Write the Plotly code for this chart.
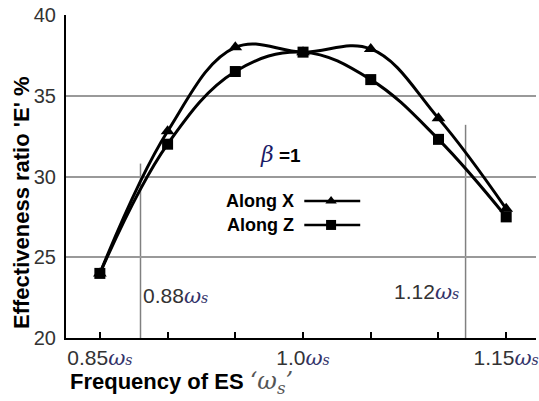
import plotly.graph_objects as go

# ---- data ----
freq = [0.85, 0.90, 0.95, 1.00, 1.05, 1.10, 1.15]
along_x = [24.0, 32.8, 38.0, 37.7, 37.9, 33.6, 28.0]
along_z = [24.0, 32.0, 36.5, 37.7, 36.0, 32.3, 27.5]
label_vals = [0.85, 1.00, 1.15]
label_text = ["0.85", "1.0", "1.15"]
minor_vals = [0.90, 0.95, 1.05, 1.10]
y_ticks = [20, 25, 30, 35, 40]
ref_lines = [(0.88, 30.8, "0.88"), (1.12, 33.2, "1.12")]

OM = "<span style='font-family:DejaVu Serif;color:#33336a'><i>ω</i><span style='font-size:14px'><i>s</i></span></span>"

fig = go.Figure()

fig.add_trace(go.Scatter(
    x=freq, y=along_x, mode="lines+markers",
    line=dict(color="black", width=3, shape="spline", smoothing=1.1),
    marker=dict(symbol="triangle-up", size=12, color="black"),
    showlegend=False, cliponaxis=False))
fig.add_trace(go.Scatter(
    x=freq, y=along_z, mode="lines+markers",
    line=dict(color="black", width=3, shape="spline", smoothing=1.1),
    marker=dict(symbol="square", size=11, color="black"),
    showlegend=False, cliponaxis=False))

# legend samples on an overlay axis (paper-like 0..1)
leg_y = [0.424, 0.350]
leg_sym = ["triangle-up", "square"]
leg_names = ["Along X", "Along Z"]
for yy, sym, name in zip(leg_y, leg_sym, leg_names):
    fig.add_trace(go.Scatter(
        x=[0.507, 0.626], y=[yy, yy], mode="lines", xaxis="x2", yaxis="y2",
        line=dict(color="black", width=2.5), showlegend=False))
    fig.add_trace(go.Scatter(
        x=[0.564], y=[yy], mode="markers", xaxis="x2", yaxis="y2",
        marker=dict(symbol=sym, size=10, color="black"), showlegend=False))
    fig.add_annotation(xref="paper", yref="paper", x=0.490, y=yy,
                       text="<b>%s</b>" % name, showarrow=False,
                       xanchor="right", yanchor="middle",
                       font=dict(family="Liberation Sans", size=18, color="black"))

# reference vertical lines and labels
for xv, ytop, lab in ref_lines:
    fig.add_shape(type="line", x0=xv, x1=xv, y0=20, y1=ytop,
                  line=dict(color="#808080", width=1.5), layer="below")
fig.add_annotation(x=0.88, y=22.6, text="0.88" + OM, showarrow=False,
                   xanchor="left", yanchor="middle", xshift=0,
                   font=dict(family="Liberation Sans", size=21, color="#333"))
fig.add_annotation(x=1.12, y=22.85, text="1.12" + OM, showarrow=False,
                   xanchor="right", yanchor="middle", xshift=-5,
                   font=dict(family="Liberation Sans", size=21, color="#333"))

# beta label
fig.add_annotation(xref="paper", yref="paper", x=0.457, y=0.567,
                   text="<span style='font-family:DejaVu Serif;color:#1a1a66;font-size:22px'><i>β</i></span> <b>=1</b>",
                   showarrow=False, xanchor="center", yanchor="middle",
                   font=dict(family="Liberation Sans", size=19, color="black"))

# axis titles
fig.add_annotation(xref="paper", yref="paper", x=0, y=0.418, xshift=-44,
                   text="<b>Effectiveness ratio 'E' %</b>", textangle=-90,
                   showarrow=False, xanchor="center", yanchor="middle",
                   font=dict(family="Liberation Sans", size=22, color="black"))
fig.add_annotation(xref="paper", yref="paper", x=0, y=-0.139, xshift=2,
                   text="<b>Frequency of ES</b> <span style='font-family:DejaVu Serif;color:#555;font-size:24px'><i>‘ω<sub>s</sub>’</i></span>",
                   showarrow=False, xanchor="left", yanchor="middle",
                   font=dict(family="Liberation Sans", size=22, color="black"))

fig.update_layout(
    width=539, height=401,
    margin=dict(l=66, r=0, t=15, b=63),
    paper_bgcolor="white", plot_bgcolor="white",
    showlegend=False,
    xaxis=dict(range=[0.825, 1.172], tickvals=label_vals,
               ticktext=[t + OM for t in label_text],
               ticks="inside", ticklen=6, tickwidth=2, tickcolor="black",
               minor=dict(tickvals=minor_vals, ticks="inside", ticklen=6,
                          tickwidth=2, tickcolor="black", showgrid=False),
               ticklabeloverflow="allow",
               showgrid=False, zeroline=False,
               showline=True, linecolor="black", linewidth=2,
               tickfont=dict(family="Liberation Sans", size=21, color="#333")),
    yaxis=dict(range=[20, 40], tickvals=y_ticks, ticks="",
               showgrid=True, gridcolor="#999", gridwidth=2,
               zeroline=False, showline=True, linecolor="black", linewidth=2,
               ticklabelstandoff=4,
               tickfont=dict(family="Liberation Sans", size=20, color="#333")),
    xaxis2=dict(overlaying="x", range=[0, 1], visible=False),
    yaxis2=dict(overlaying="y", range=[0, 1], visible=False),
)

fig.write_html("out.html")
